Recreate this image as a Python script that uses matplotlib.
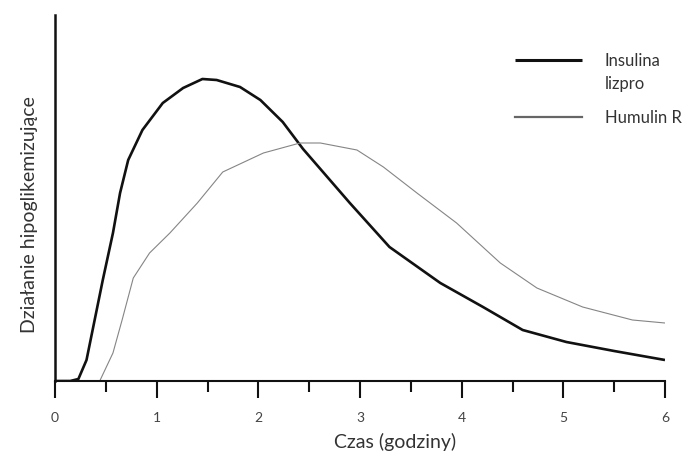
import matplotlib
matplotlib.use("Agg")
import matplotlib.pyplot as plt
from matplotlib.ticker import MultipleLocator

plt.rcParams['font.family'] = ['Lato', 'DejaVu Sans']

# Data (hours, relative effect)
lispro_x = [0.0, 0.15, 0.23, 0.31, 0.47, 0.57, 0.64, 0.72, 0.86, 1.06, 1.26, 1.45, 1.59,
            1.82, 2.02, 2.24, 2.44, 2.90, 3.29, 3.79, 4.21, 4.60, 5.03, 5.50, 6.0]
lispro_y = [0, 0, 2, 21, 101, 148, 188, 221, 251, 278, 293, 302, 301,
            294, 281, 259, 232, 178, 134, 98, 74, 51, 39, 30, 21]

humulin_x = [0.0, 0.30, 0.44, 0.57, 0.66, 0.77, 0.93, 1.13, 1.40, 1.65, 2.05, 2.41, 2.61,
             2.97, 3.23, 3.56, 3.95, 4.38, 4.74, 5.19, 5.68, 6.0]
humulin_y = [0, 0, 0, 28, 61, 103, 128, 148, 178, 209, 228, 238, 238,
             231, 214, 188, 158, 118, 93, 74, 61, 58]

series_labels = ["Insulina\nlizpro", "Humulin R"]
x_ticks = [0, 1, 2, 3, 4, 5, 6]
x_label = "Czas (godziny)"
y_label = "Działanie hipoglikemizujące"

fig = plt.figure(figsize=(6.96, 4.57), dpi=100)
ax = fig.add_axes([55/696, 76/457, 610/696, 366/457])

ax.plot(lispro_x, lispro_y, color="#111111", lw=1.9, label=series_labels[0], solid_capstyle="butt")
ax.plot(humulin_x, humulin_y, color="#858585", lw=0.8, label=series_labels[1])

ax.set_xlim(0, 6)
ax.set_ylim(0, 366)
ax.set_xticks(x_ticks)
ax.xaxis.set_minor_locator(MultipleLocator(0.5))
ax.tick_params(axis="x", which="major", direction="out", length=12, width=1.5,
               color="#111111", labelsize=10, labelcolor="#444444", pad=10)
ax.tick_params(axis="x", which="minor", direction="out", length=8, width=1.5, color="#111111")
ax.set_yticks([])
for s in ["top", "right"]:
    ax.spines[s].set_visible(False)
ax.spines["left"].set_linewidth(1.8)
ax.spines["bottom"].set_linewidth(1.5)
ax.spines["left"].set_color("#111111")
ax.spines["bottom"].set_color("#111111")

ax.set_xlabel(x_label, fontsize=14, color="#333333")
ax.xaxis.set_label_coords((395-55)/610, -(433-381)/366, transform=ax.transAxes)
ax.set_ylabel(y_label, fontsize=14, color="#333333")
ax.yaxis.set_label_coords(-(55-38)/610, (381-215)/366)

leg = ax.legend(loc="upper left", bbox_to_anchor=((500-55)/610, 1 - (38-15)/366),
                frameon=False, fontsize=12, handlelength=4.0, handletextpad=1.4,
                labelspacing=1.1, labelcolor="#333333")
leg.get_texts()[0].set_linespacing(1.5)
hs = leg.legend_handles
hs[0].set_linewidth(2.2)
hs[1].set_linewidth(1.6)
hs[1].set_color("#666666")
hs[0].set_ydata([y + 9 for y in hs[0].get_ydata()])

fig.savefig("out.png", dpi=100)
